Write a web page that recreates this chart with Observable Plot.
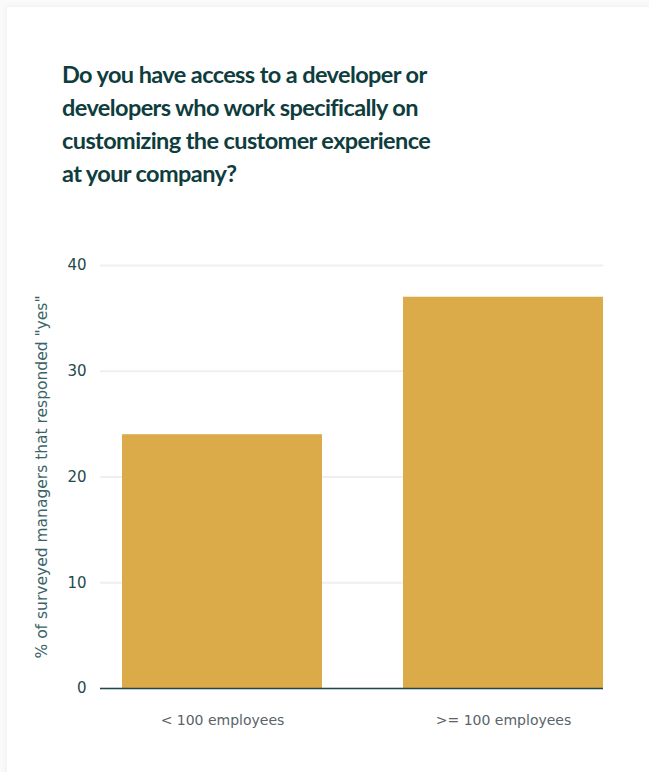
<!DOCTYPE html>
<html>
<head>
<meta charset="utf-8">
<script src="https://cdn.jsdelivr.net/npm/d3@7"></script>
<script src="https://cdn.jsdelivr.net/npm/@observablehq/plot@0.6"></script>
<style>
  html, body { margin: 0; padding: 0; background: #fafafa; width: 649px; height: 772px; overflow: hidden; }
  #card { position: absolute; left: 7px; top: 7px; width: 700px; height: 800px; background: #fff; box-shadow: 0 0 6px rgba(0,0,0,0.07); }
  #title { position: absolute; left: 62px; top: 58px; margin: 0; font-family: Lato, sans-serif; font-weight: 700; font-size: 23.5px; letter-spacing: -0.6px; line-height: 33px; color: #0f3d3e; }
  #chart { position: absolute; left: 0; top: 240px; }
</style>
</head>
<body>
<div id="card"></div>
<h1 id="title">Do you have access to a developer or<br>developers who work specifically on<br>customizing the customer experience<br>at your company?</h1>
<div id="chart"></div>
<script>
const categories = ["< 100 employees", ">= 100 employees"];
const values = [24, 37];
const yTicks = [0, 10, 20, 30, 40];
const yLabel = "% of surveyed managers that responded \"yes\"";

const data = categories.map((c, i) => ({category: c, value: values[i]}));

const chart = Plot.plot({
  width: 649,
  height: 520,
  marginTop: 25,
  marginBottom: 72,
  marginLeft: 100,
  marginRight: 46,
  style: {fontFamily: "'DejaVu Sans', sans-serif", fontSize: "14px", background: "transparent"},
  x: {domain: categories, paddingInner: 0.288, paddingOuter: 0.037, align: 1, label: null},
  y: {domain: [0, 40], ticks: yTicks, label: yLabel},
  marks: [
    Plot.gridY(yTicks, {stroke: "#efefef", strokeOpacity: 1, strokeWidth: 2}),
    Plot.barY(data, {x: "category", y: "value", fill: "#dbab4a"}),
    Plot.ruleY([0], {stroke: "#1e4a4c", strokeWidth: 1.5}),
    Plot.axisY(yTicks, {tickSize: 0, tickPadding: 14, fill: "#1f4a4c", fontSize: 15, label: null}),
    Plot.axisY({tickSize: 0, ticks: [], fill: "#3b6468", fontSize: 15.5, label: yLabel, labelAnchor: "center", labelArrow: "none", labelOffset: 65}),
    Plot.axisX({tickSize: 0, tickPadding: 27, fill: "#58636a", fontSize: 14, label: null})
  ]
});
document.getElementById("chart").appendChild(chart);
</script>
</body>
</html>
